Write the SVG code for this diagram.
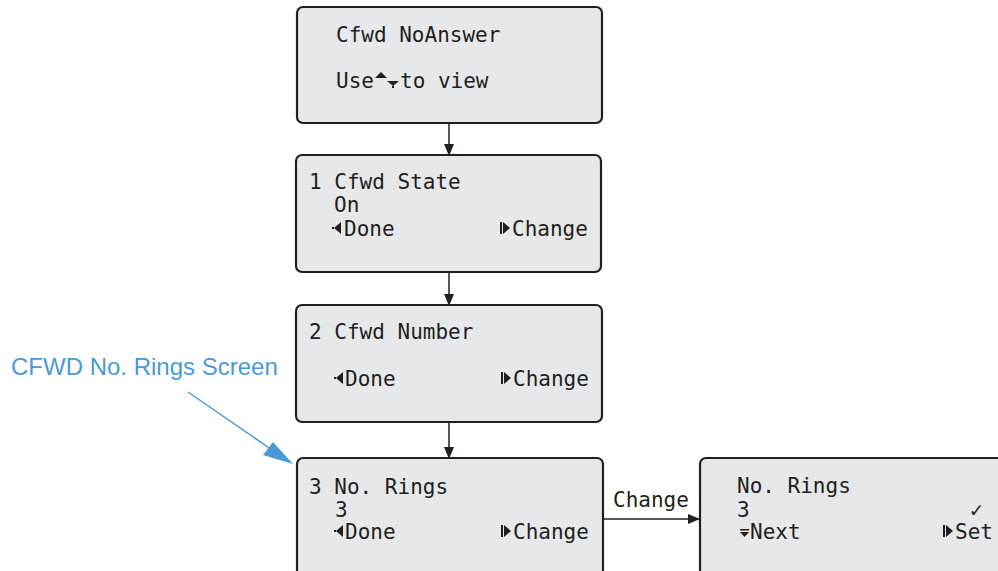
<svg xmlns="http://www.w3.org/2000/svg" width="998" height="571" viewBox="0 0 998 571">
<style>
.box{fill:#e6e7e8;stroke:#231f20;stroke-width:2.2}
.t{font-family:"DejaVu Sans Mono","Liberation Mono",monospace;font-size:21px;fill:#231f20}
.g{fill:#231f20}
.c{stroke:#231f20;stroke-width:1.5;fill:none}
.lbl{font-family:"Liberation Sans",Arial,sans-serif;font-size:24px;fill:#4b9ad4}
</style>
<defs>
<marker id="ah" markerWidth="12" markerHeight="10" refX="11" refY="5" orient="auto" markerUnits="userSpaceOnUse">
<path d="M0,0 L12,5 L0,10 Z" fill="#231f20"/>
</marker>
</defs>
<rect width="998" height="571" fill="#ffffff"/>

<g id="connectors">
<line class="c" x1="449" y1="124" x2="449" y2="155" marker-end="url(#ah)"/>
<line class="c" x1="449" y1="273" x2="449" y2="305" marker-end="url(#ah)"/>
<line class="c" x1="449" y1="423" x2="449" y2="458" marker-end="url(#ah)"/>
<line class="c" x1="603" y1="519" x2="699" y2="519" marker-end="url(#ah)"/>
<text class="t" x="613" y="507" font-size="20">Change</text>
<line x1="188" y1="392" x2="275" y2="452" stroke="#4b9ad4" stroke-width="1.5"/>
<polygon points="293,464 263,455 273,442" fill="#4b9ad4"/>
</g>

<g id="callout">
<text class="lbl" x="11" y="375">CFWD No. Rings Screen</text>
</g>

<g id="node-noanswer">
<rect class="box" x="297" y="7" width="305" height="116" rx="6"/>
<text class="t" x="336" y="42">Cfwd NoAnswer</text>
<text class="t" x="336" y="88">Use</text>
<polygon class="g" points="375,78 381,72 387,78"/>
<polygon class="g" points="387,81 399,81 393,86"/>
<rect class="g" x="392" y="86" width="2" height="2"/>
<text class="t" x="400" y="88">to view</text>
</g>

<g id="node-state">
<rect class="box" x="296" y="155" width="305" height="117" rx="6"/>
<text class="t" x="309" y="189">1 Cfwd State</text>
<text class="t" x="334" y="212">On</text>
<polygon class="g" points="334,228 341,222 341,234"/>
<rect class="g" x="332" y="227" width="2" height="2"/>
<text class="t" x="344" y="236">Done</text>
<polygon class="g" points="510,228 503,222 503,234"/>
<rect class="g" x="500" y="222" width="2" height="12"/>
<text class="t" x="512" y="236">Change</text>
</g>

<g id="node-number">
<rect class="box" x="296" y="305" width="306" height="117" rx="6"/>
<text class="t" x="309" y="339">2 Cfwd Number</text>
<polygon class="g" points="336,378 343,372 343,384"/>
<rect class="g" x="334" y="377" width="2" height="2"/>
<text class="t" x="345" y="386">Done</text>
<polygon class="g" points="511,378 504,372 504,384"/>
<rect class="g" x="501" y="372" width="2" height="12"/>
<text class="t" x="513" y="386">Change</text>
</g>

<g id="node-rings">
<rect class="box" x="297" y="458" width="306" height="125" rx="6"/>
<text class="t" x="309" y="494">3 No. Rings</text>
<text class="t" x="335" y="517">3</text>
<polygon class="g" points="336,531 343,525 343,537"/>
<rect class="g" x="334" y="530" width="2" height="2"/>
<text class="t" x="345" y="539">Done</text>
<polygon class="g" points="511,531 504,525 504,537"/>
<rect class="g" x="501" y="525" width="2" height="12"/>
<text class="t" x="513" y="539">Change</text>
</g>

<g id="node-set">
<rect class="box" x="700" y="458" width="310" height="125" rx="6"/>
<text class="t" x="737" y="493">No. Rings</text>
<text class="t" x="737" y="517">3</text>
<text class="t" x="970" y="517" font-family="DejaVu Sans,sans-serif">✓</text>
<polygon class="g" points="740,532 749,532 744.5,537"/>
<rect class="g" x="740" y="529" width="9" height="1.5"/>
<text class="t" x="750" y="539">Next</text>
<polygon class="g" points="953,531 946,525 946,537"/>
<rect class="g" x="943" y="525" width="2" height="12"/>
<text class="t" x="955" y="539">Set</text>
</g>
</svg>
